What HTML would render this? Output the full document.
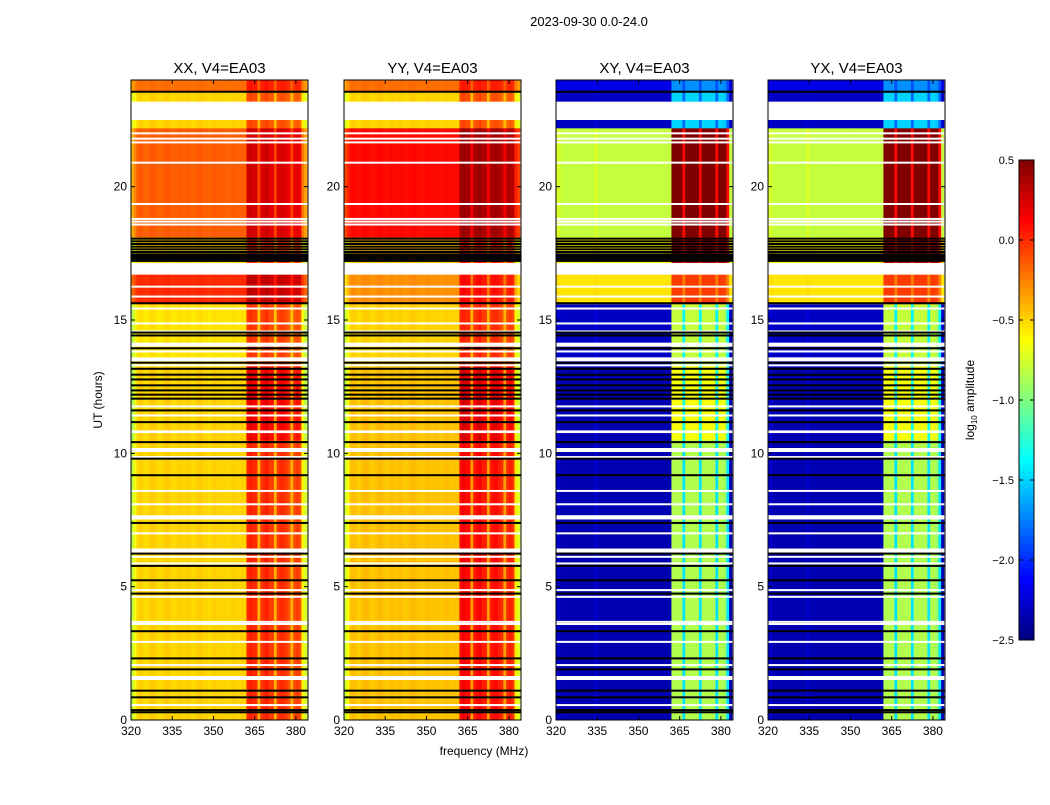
<!DOCTYPE html>
<html><head><meta charset="utf-8"><style>
body{margin:0;background:#fff;font-family:"Liberation Sans",sans-serif}
svg text{font-family:"Liberation Sans",sans-serif}
</style></head><body>
<svg id="fig" width="1050" height="800" xmlns="http://www.w3.org/2000/svg">
<text x="589" y="26" font-size="13" text-anchor="middle">2023-09-30 0.0-24.0</text>
<text x="484" y="755" font-size="12" text-anchor="middle">frequency (MHz)</text>
<text x="102" y="400" font-size="12" text-anchor="middle" transform="rotate(-90 102 400)">UT (hours)</text>
<g id="panels"></g>
<g id="cbar"></g>
</svg>
<script>
const panelTitles=["XX, V4=EA03","YY, V4=EA03","XY, V4=EA03","YX, V4=EA03"];
const panelLeft=[131,344,556,768];
const segStart=[0,10.5,13.3,15.6,16.7,17.15,18.1,22.2,22.5,23.2,23.6];
const segEnd=[10.5,13.3,15.6,16.7,17.15,18.1,22.2,22.5,23.2,23.6,24];
const xxBg=[-0.5,-0.5,-0.55,0.0,null,-0.5,-0.15,-0.5,null,-0.5,-0.2];
const xxBoost=[1.0,1.3,1.0,0.6,0,1.0,0.8,0.8,0,0.8,0.5];
const yyBg=[-0.45,-0.45,-0.5,-0.3,null,-0.45,0.1,-0.5,null,-0.5,-0.2];
const yyBoost=[1.1,1.3,1.0,0.8,0,1.0,0.6,0.8,0,0.8,0.5];
const xyBg=[-2.35,-2.35,-2.3,-0.55,null,-0.6,-0.8,-2.3,null,-2.3,-2.2];
const xyBoost=[1.5,1.7,1.5,0.5,0,1.0,1.5,0.8,0,0.8,0.5];
const yxBg=[-2.35,-2.35,-2.3,-0.55,null,-0.6,-0.8,-2.3,null,-2.3,-2.2];
const yxBoost=[1.5,1.7,1.5,0.5,0,1.0,1.5,0.8,0,0.8,0.5];
const parProfile=[-0.3,-0.15,0,0.02,0,-0.03,0,0.03,0.02,0,-0.03,0,0.02,0.03,0,-0.02,0,0.02,0,0,0.02,0,-0.02,0,0.02,0.03,0,0,-0.02,0,0.02,0,0,0.01,0,-0.01,0,0.02,0,0,0.01,0,0.5,0.55,0.5,0.5,0.1,0.45,0.5,0.55,0.45,0.45,0.1,0.45,0.5,0.5,0.45,0.4,0.1,0.4,0.45,0.4,-0.1,-0.25];
const crossProfile=[0.05,0.02,0,0,0,0,0,0,0,0,0,0,0,0,0.05,0,0,0,0,0,0,0,0,0,0,0,0,0,0,0,0,0,0,0,0,0,0,0,0,0,0,0,1,1,1,1,0.6,1,1,1,1,1,0.6,1,1,1,1,1,0.6,1,1,0.95,0.6,0];
const whiteLines=[22.0,21.8,21.66,20.9,19.35,18.79,18.69,18.58,16.25,15.88,15.43,14.87,14.57,13.82,13.3,11.76,11.42,9.86,8.59,8.09,7.0,6.12,5.87,4.87,4.62,3.68,3.6,2.93,2.06,0.56];
const whiteBandStart=[14.0,13.45,10.76,10.05,7.52,6.28,1.5];
const whiteBandEnd=[14.15,13.6,10.86,10.2,7.68,6.43,1.65];
const blackLines=[23.56,18.05,17.95,17.85,17.75,17.65,17.55,15.63,14.53,14.42,13.94,13.4,13.17,12.95,12.77,12.55,12.36,12.2,12.05,11.61,11.17,10.42,9.8,9.18,7.39,6.24,5.78,5.24,4.74,3.33,2.31,1.9,1.1,0.85,0.37,0.29];
const blackBandStart=[17.18];
const blackBandEnd=[17.5];
const xTicks=[320,335,350,365,380];
const yTicks=[0,5,10,15,20];
const cbTicks=[0.5,0.0,-0.5,-1.0,-1.5,-2.0,-2.5];
const cbLabels=["0.5","0.0","\u22120.5","\u22121.0","\u22121.5","\u22122.0","\u22122.5"];

const NS="http://www.w3.org/2000/svg";
const PT=80,PB=720,PW=177,FMIN=320,FMAX=384.4,VMIN=-2.5,VMAX=0.5;
function yOf(h){return PB-h*(PB-PT)/24;}
function xOf(f,x0){return x0+(f-FMIN)*PW/(FMAX-FMIN);}
function jet(v){let t=(v-VMIN)/(VMAX-VMIN);t=Math.max(0,Math.min(1,t));
const c=u=>Math.round(255*Math.max(0,Math.min(1,1.5-Math.abs(u))));
return `rgb(${c(4*t-3)},${c(4*t-2)},${c(4*t-1)})`;}
function mk(tag,attrs,parent){const e=document.createElementNS(NS,tag);for(const k in attrs)e.setAttribute(k,attrs[k]);parent.appendChild(e);return e;}
const panels=document.getElementById('panels');
const bgs=[xxBg,yyBg,xyBg,yxBg],boosts=[xxBoost,yyBoost,xyBoost,yxBoost],profs=[parProfile,parProfile,crossProfile,crossProfile];
for(let p=0;p<4;p++){
 const x0=panelLeft[p];
 const g=mk('g',{},panels);
 
 
 const hm=mk('g',{},g);
 
 
 for(let s=0;s<segStart.length;s++){
  const bg=bgs[p][s];if(bg===null)continue;
  const y1=yOf(segEnd[s]),y2=yOf(segStart[s]);
  for(let i=0;i<profs[p].length;i++){
   const f0=FMIN+i,f1=Math.min(FMIN+i+1,FMAX);if(f0>=FMAX)break;
   const v=bg+boosts[p][s]*profs[p][i];
   const xa=xOf(f0,x0),xb=xOf(f1,x0);
   const r=mk('rect',{x:xa.toFixed(2),y:y1.toFixed(2),width:(xb-xa+0.4).toFixed(2),height:(y2-y1+0.3).toFixed(2),fill:jet(v)},hm);
   
   
  }
 }
 for(let k=0;k<whiteBandStart.length;k++){const y1=yOf(whiteBandEnd[k]),y2=yOf(whiteBandStart[k]);
  const r=mk('rect',{x:x0,y:y1,width:PW,height:y2-y1,fill:'#fff'},g);
  }
 for(const h of whiteLines){const r=mk('rect',{x:x0,y:yOf(h)-1,width:PW,height:2,fill:'#fff'},g);
  }
 for(let k=0;k<blackBandStart.length;k++){const y1=yOf(blackBandEnd[k]),y2=yOf(blackBandStart[k]);
  const r=mk('rect',{x:x0,y:y1,width:PW,height:y2-y1,fill:'#000'},g);
  }
 for(const h of blackLines){const r=mk('rect',{x:x0,y:yOf(h)-1,width:PW,height:2,fill:'#000'},g);
  }
 const fr=mk('rect',{x:x0,y:PT,width:PW,height:PB-PT,fill:'none',stroke:'#000','stroke-width':1},g);
 
 const t=mk('text',{x:x0+PW/2,y:PT-7,'font-size':15,'text-anchor':'middle'},g);t.textContent=panelTitles[p];
 
 for(const f of xTicks){const x=xOf(f,x0);
  mk('line',{x1:x,x2:x,y1:PB,y2:PB-4,stroke:'#000'},g);mk('line',{x1:x,x2:x,y1:PT,y2:PT+4,stroke:'#000'},g);
  const tt=mk('text',{x:x,y:PB+15,'font-size':12,'text-anchor':'middle'},g);tt.textContent=f;
  }
 for(const h of yTicks){const y=yOf(h);
  mk('line',{x1:x0,x2:x0+4,y1:y,y2:y,stroke:'#000'},g);mk('line',{x1:x0+PW,x2:x0+PW-4,y1:y,y2:y,stroke:'#000'},g);
  const tt=mk('text',{x:x0-4,y:y+4,'font-size':12,'text-anchor':'end'},g);tt.textContent=h;
  }
}
const cb=document.getElementById('cbar');


const CX=1019,CW=15,CT=160,CB=640;
for(let k=0;k<120;k++){const v=VMAX-(k+0.5)*(VMAX-VMIN)/120;
 mk('rect',{x:CX,y:CT+k*(CB-CT)/120,width:CW,height:(CB-CT)/120+0.5,fill:jet(v)},cb);}
mk('rect',{x:CX,y:CT,width:CW,height:CB-CT,fill:'none',stroke:'#000'},cb);
cbTicks.forEach((v,i)=>{const y=CT+(VMAX-v)/(VMAX-VMIN)*(CB-CT);
 mk('line',{x1:CX+CW-4,x2:CX+CW,y1:y,y2:y,stroke:'#000'},cb);
 mk('line',{x1:CX,x2:CX+4,y1:y,y2:y,stroke:'#000'},cb);
 const t=mk('text',{x:CX-5,y:y+4,'font-size':11,'text-anchor':'end'},cb);t.textContent=cbLabels[i];
 });
const cl=mk('text',{x:974,y:400,'font-size':12,'text-anchor':'middle',transform:'rotate(-90 974 400)'},cb);
cl.innerHTML='log<tspan font-size="8" dy="3">10</tspan><tspan dy="-3"> amplitude</tspan>';


</script>
</body></html>
